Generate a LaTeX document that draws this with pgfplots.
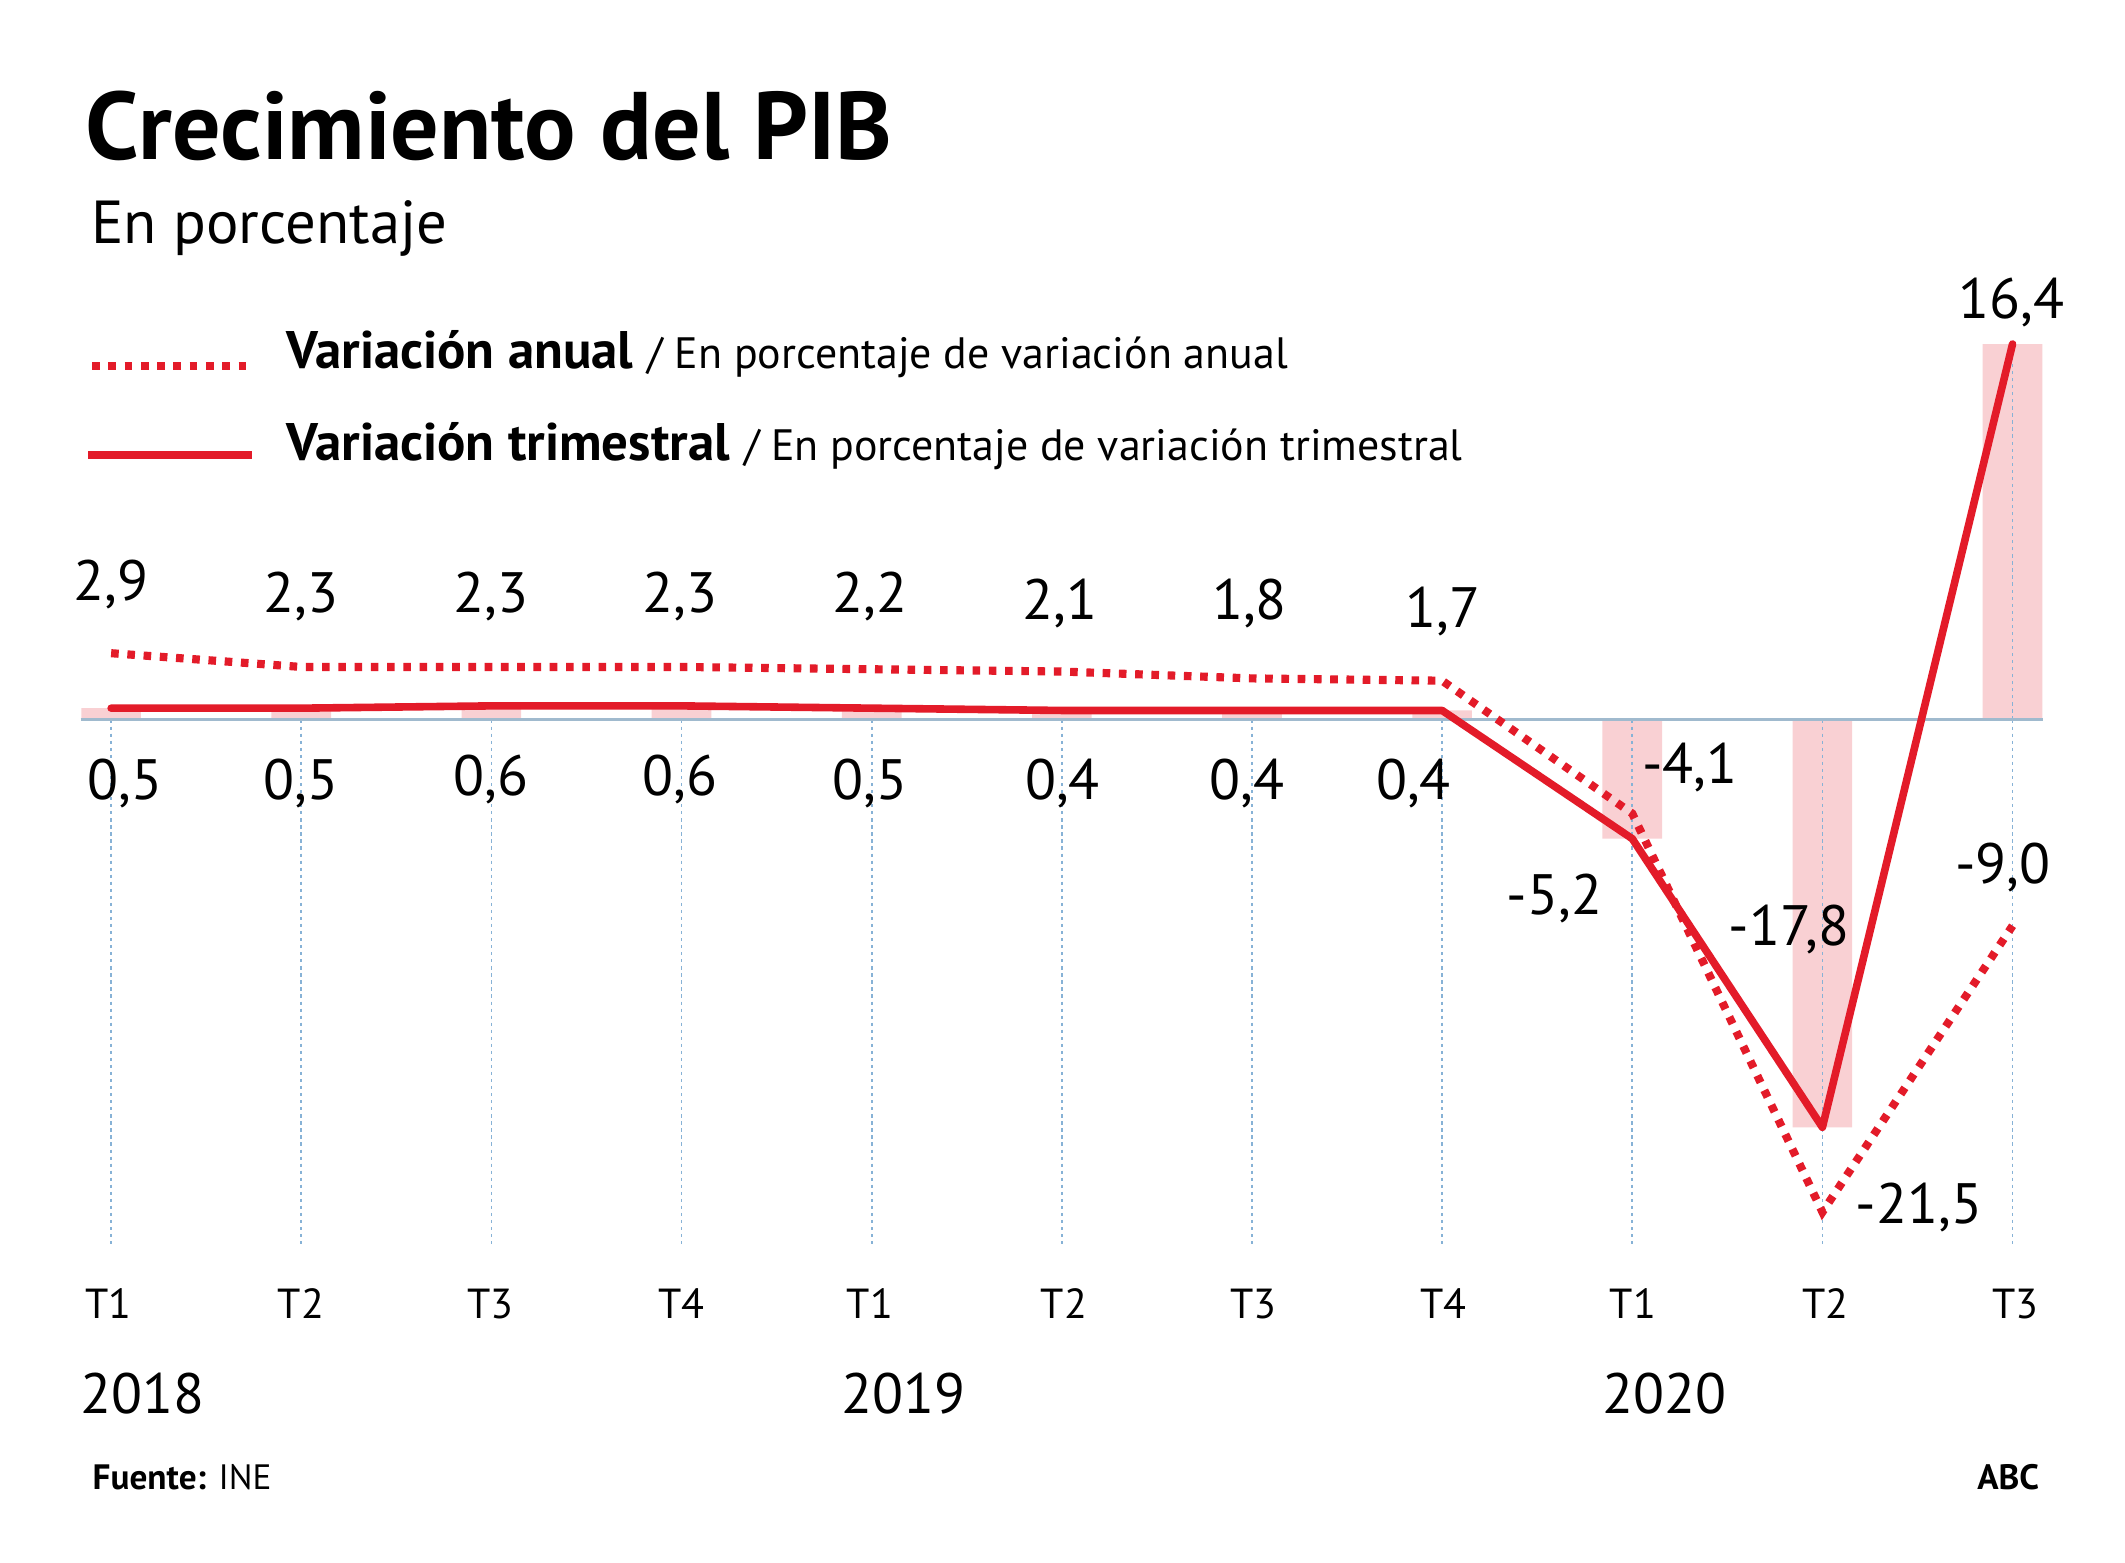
\documentclass[border=0pt]{standalone}
\usepackage{pgfplots}
\pgfplotsset{compat=1.18}
\usepackage{fontspec}
\setmainfont{PT Sans}
\definecolor{abcred}{RGB}{227,27,41}
\definecolor{barpink}{RGB}{249,208,211}
\definecolor{zeroline}{RGB}{160,186,206}
\definecolor{gridblue}{RGB}{135,178,214}
\newcommand{\fs}[1]{\fontsize{#1}{#1}\selectfont}
\begin{document}
\begin{tikzpicture}
\path[use as bounding box, fill=white] (0,0) rectangle (784pt,576.5pt);
\begin{axis}[at={(29.78pt,108.2pt)}, anchor=south west,
  x=70.15pt, y=8.45pt, xmin=-0.16, xmax=10.16, ymin=-24, ymax=18,
  axis lines=none, clip=false]
% quarterly bars
\addplot[ybar, bar width=22pt, fill=barpink, draw=none] coordinates {
 (0,0.5) (1,0.5) (2,0.6) (3,0.6) (4,0.5) (5,0.4) (6,0.4) (7,0.4) (8,-5.2) (9,-17.8) (10,16.4)};
% vertical guide lines
\addplot[ycomb, mark=none, gridblue, line width=0.6pt, dash pattern=on 1.2pt off 1.4pt] coordinates {
 (0,-23) (1,-23) (2,-23) (3,-23) (4,-23) (5,-23) (6,-23) (7,-23) (8,-23) (9,-23) (10,-23)};
\addplot[ycomb, mark=none, gridblue, line width=0.6pt, dash pattern=on 1.2pt off 1.4pt] coordinates {(10,16.4)};
% zero line
\addplot[zeroline, line width=1pt, mark=none] coordinates {(-0.16,0) (10.16,0)};
% annual
\addplot[abcred, mark=none, line width=3pt, dash pattern=on 2.8pt off 3.2pt] coordinates {
 (0,2.9) (1,2.3) (2,2.3) (3,2.3) (4,2.2) (5,2.1) (6,1.8) (7,1.7) (8,-4.1) (9,-21.5) (10,-9.0)};
% quarterly
\addplot[abcred, mark=none, line width=2.8pt, line join=round, line cap=round] coordinates {
 (0,0.5) (1,0.5) (2,0.6) (3,0.6) (4,0.5) (5,0.4) (6,0.4) (7,0.4) (8,-5.2) (9,-17.8) (10,16.4)};
\end{axis}
\begin{scope}[x=0.5pt, y=-0.5pt, yshift=576.5pt]
\node[anchor=base west, inner sep=0] at (63,118) {\fs{35.4}\bfseries Crecimiento del PIB};
\node[anchor=base west, inner sep=0] at (67,180) {\fs{22.4}En porcentaje};
% legend
\draw[abcred, line width=3pt, dash pattern=on 2.8pt off 3.2pt] (68,270) -- (186,270);
\draw[abcred, line width=3pt] (65,336) -- (186,336);
\node[anchor=base west, inner sep=0] at (211,272) {\fs{19.5}\textbf{Variación anual} \fs{16.2}/ En porcentaje de variación anual};
\node[anchor=base west, inner sep=0] at (211,340) {\fs{19.5}\textbf{Variación trimestral} \fs{16.2}/ En porcentaje de variación trimestral};
% annual labels
\foreach \x/\y/\t in {82/443/{2,9},222/452/{2,3},362/452/{2,3},502/452/{2,3},642/452/{2,2},782/457/{2,1},922/457/{1,8},1065/463/{1,7}}
  \node[anchor=base, inner sep=0] at (\x,\y) {\fs{21}\t};
% quarterly labels
\foreach \x/\y/\t in {92/590/{0,5},222/590/{0,5},362/587/{0,6},502/587/{0,6},642/590/{0,5},784/590/{0,4},920/590/{0,4},1043/590/{0,4}}
  \node[anchor=base, inner sep=0] at (\x,\y) {\fs{21}\t};
\foreach \x/\y/\t in {1247/578/{-4,1},1147/675/{-5,2},1320/698/{-17,8},1416/903/{-21,5},1484/235/{16,4},1478/652/{-9,0}}
  \node[anchor=base, inner sep=0] at (\x,\y) {\fs{21}\t};
% quarter ticks
\foreach \x/\t in {80/T1,222/T2,362/T3,503/T4,642/T1,785/T2,925/T3,1065/T4,1205/T1,1347/T2,1487/T3}
  \node[anchor=base, inner sep=0] at (\x,973) {\fs{15.5}\t};
\foreach \x/\t in {105/2018,667/2019,1228/2020}
  \node[anchor=base, inner sep=0] at (\x,1043) {\fs{21}\t};
\node[anchor=base west, inner sep=0] at (68,1099) {\fs{13}\textbf{Fuente:} INE};
\node[anchor=base east, inner sep=0] at (1505,1099) {\fs{13}\textbf{ABC}};
\end{scope}
\end{tikzpicture}
\end{document}
